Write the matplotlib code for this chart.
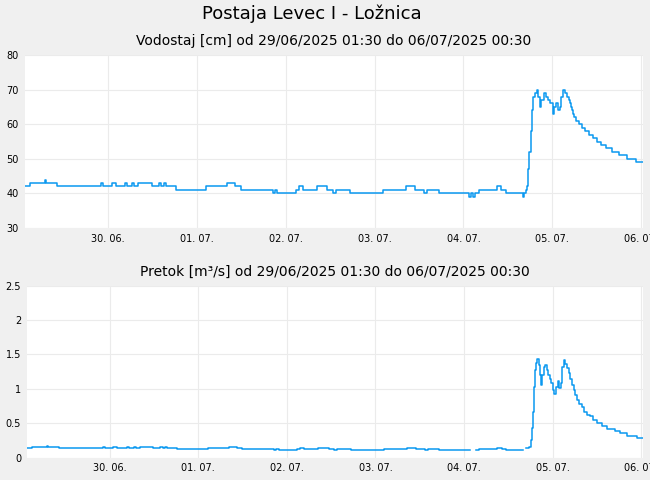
import numpy as np
import matplotlib
matplotlib.use('Agg')
import matplotlib.pyplot as plt
import matplotlib.dates as mdates
from matplotlib.ticker import MultipleLocator, FuncFormatter

# hours after 29/06/2025 01:30
level_hours = [0, 1.5, 5.4, 5.9, 8.8, 20.6, 21.1, 23.5, 24.6, 27.2, 27.7, 29.1, 29.6, 30.7,
               34.3, 36.2, 36.8, 37.6, 38.1, 40.8, 49.1, 54.7, 56.9, 58.4, 67.1, 67.6,
               68.3, 73.3, 74.1, 75.2, 79.0, 81.8, 83.3, 84.0, 87.9, 96.9, 103.0, 105.5,
               108.0, 108.7, 111.8, 120.1, 120.5, 121.2, 121.6, 122.6, 127.5, 128.7,
               130.0, 134.5, 135.0, 135.3, 135.6, 136.0, 136.3, 136.7, 137.0, 137.4,
               137.8, 138.3, 138.7, 139.2, 139.5, 140.2, 140.8, 141.4, 141.9, 142.6,
               143.0, 143.6, 144.0, 144.5, 144.9, 145.4, 145.9, 146.4, 146.9, 147.2,
               147.5, 147.9, 148.2, 148.5, 148.9, 149.6, 150.5, 151.3, 152.5, 153.4,
               154.7, 155.6, 157.0, 158.7, 160.5, 162.6, 165.0, 167.0]
level_cm = [42, 43, 44, 43, 42, 43, 42, 43, 42, 43, 42, 43, 42, 43,
            42, 43, 42, 43, 42, 41, 42, 43, 42, 41, 40, 41,
            40, 41, 42, 41, 42, 41, 40, 41, 40, 41, 42, 41,
            40, 41, 40, 39, 40, 39, 40, 41, 42, 41,
            40, 39, 40, 41, 42, 47, 52, 58, 64, 68,
            69, 70, 68, 65, 67, 69, 68, 67, 66, 63,
            65, 66, 64, 65, 68, 70, 69, 68, 67, 66,
            65, 64, 63, 62, 61, 60, 59, 58, 57, 56,
            55, 54, 53, 52, 51, 50, 49, 49]

nan = float('nan')
flow_hours = [0, 1.5, 5.4, 5.9, 8.8, 20.6, 21.1, 23.5, 24.6, 27.2, 27.7, 29.1, 29.6, 30.7,
              34.3, 36.2, 36.8, 37.6, 38.1, 40.8, 49.1, 54.7, 56.9, 58.4, 67.1, 67.6,
              68.3, 73.3, 74.1, 75.2, 79.0, 81.8, 83.3, 84.0, 87.9, 96.9, 103.0, 105.5,
              108.0, 108.7, 111.8, 120.1, 121.7, 122.6, 127.5, 128.7, 130.0, 134.5,
              135.4, 136.1, 136.6, 136.9, 137.1, 137.4, 137.7, 138.0, 138.3, 138.7,
              139.1, 139.3, 139.7, 140.1, 140.5, 140.9, 141.3, 141.8, 142.2, 142.7,
              142.9, 143.3, 143.9, 144.2, 144.7, 145.1, 145.5, 145.9, 146.4, 146.9,
              147.3, 147.7, 148.2, 148.6, 149.2, 149.7, 150.4, 151.1, 151.7, 152.6,
              153.5, 154.6, 155.8, 157.3, 159.4, 160.7, 162.7, 165.3, 167.0]
flow_m3s = [0.145, 0.16, 0.175, 0.16, 0.145, 0.16, 0.145, 0.16, 0.145, 0.16, 0.145, 0.16, 0.145, 0.16,
            0.145, 0.16, 0.145, 0.16, 0.145, 0.13, 0.145, 0.16, 0.145, 0.13, 0.115, 0.13,
            0.115, 0.13, 0.145, 0.13, 0.145, 0.13, 0.115, 0.13, 0.115, 0.13, 0.145, 0.13,
            0.115, 0.13, 0.115, nan, 0.115, 0.13, 0.145, 0.13, 0.115, nan,
            0.14, 0.16, 0.26, 0.43, 0.67, 1.03, 1.28, 1.37, 1.43, 1.35,
            1.20, 1.06, 1.20, 1.32, 1.35, 1.28, 1.20, 1.15, 1.08, 0.98,
            0.93, 1.03, 1.11, 1.01, 1.08, 1.32, 1.42, 1.36, 1.30, 1.23,
            1.15, 1.06, 0.98, 0.91, 0.84, 0.78, 0.73, 0.67, 0.62, 0.60,
            0.55, 0.51, 0.46, 0.42, 0.39, 0.36, 0.32, 0.29, 0.29]

start = np.datetime64('2025-06-29T01:30')
end = np.datetime64('2025-07-06T00:30')
days = np.arange(np.datetime64('2025-06-30'), np.datetime64('2025-07-07'))


def to_time(hours):
    return start + (np.array(hours) * 60).astype('timedelta64[m]')


line_color = '#0a98f0'
grid_color = '#ebebeb'

fig = plt.figure(figsize=(6.5, 4.8), dpi=100, facecolor='#f0f0f0')
fig.text(0.48, 0.971, 'Postaja Levec I - Ložnica', ha='center', va='center', fontsize=13)

ax1 = fig.add_axes([0.0378, 0.525, 0.9514, 0.3604])
ax2 = fig.add_axes([0.0411, 0.0465, 0.9481, 0.3583])

ax1.plot(to_time(level_hours), level_cm, drawstyle='steps-post', color=line_color, lw=1.1)
ax2.plot(to_time(flow_hours), flow_m3s, drawstyle='steps-post', color=line_color, lw=1.1)

ax1.set_ylim(30, 80)
ax1.yaxis.set_major_locator(MultipleLocator(10))
ax2.set_ylim(0, 2.5)
ax2.yaxis.set_major_locator(MultipleLocator(0.5))
ax2.yaxis.set_major_formatter(FuncFormatter(lambda v, p: '%g' % v))

ax1.set_title('Vodostaj [cm] od 29/06/2025 01:30 do 06/07/2025 00:30', fontsize=10, pad=7)
ax2.set_title('Pretok [m³/s] od 29/06/2025 01:30 do 06/07/2025 00:30', fontsize=10, pad=7)

for ax in (ax1, ax2):
    ax.set_xlim(start, end)
    ax.set_xticks(days)
    ax.xaxis.set_major_formatter(mdates.DateFormatter('%d. %m.'))
    ax.set_facecolor('white')
    ax.grid(True, color=grid_color, lw=0.8)
    ax.set_axisbelow(True)
    for s in ax.spines.values():
        s.set_visible(False)
    ax.tick_params(length=0, labelsize=7, pad=4)

fig.savefig('out.png', dpi=100, facecolor=fig.get_facecolor())
